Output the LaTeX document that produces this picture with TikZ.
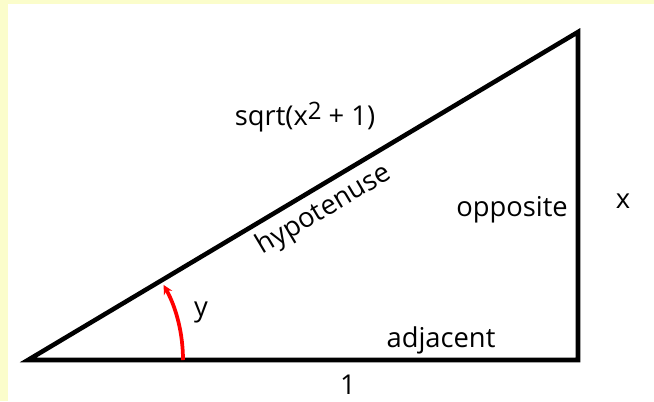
\documentclass[tikz,border=0pt]{standalone}
\usepackage{fontspec}
\setmainfont{Open Sans}
\usepackage{tikz}
\usetikzlibrary{arrows.meta, positioning, calc}

\definecolor{paleyellow}{HTML}{FBFDCB}

\begin{document}
\begin{tikzpicture}[x=0.75pt, y=-0.75pt, >=Stealth,
    lbl/.style={font=\fontsize{20.5}{23}\selectfont, inner sep=0pt},
    side/.style={line width=3.4pt, line join=miter}]
  \useasboundingbox (0,0) rectangle (654,401);
  \fill[paleyellow] (0,0) rectangle (654,401);
  \fill[white] (8,4) rectangle (654,401);

  % Triangle corners
  \coordinate (A) at (28,360);
  \coordinate (B) at (578,360);
  \coordinate (C) at (578,32);
  \draw[side] (A) -- (B) -- (C) -- cycle;

  % Angle y
  \coordinate (arcstart) at (183,360);
  \draw[red, line width=2.8pt, -{Stealth[length=7pt,width=7pt]}] (arcstart) arc[start angle=0, end angle=-29, radius=155];
  \node[lbl] (angy) at (201,312) {y};

  % Side labels
  \node[lbl] (hyplen) at (305,117) {sqrt(x\raisebox{0.45ex}{\fontsize{18}{20}\selectfont 2} + 1)};
  \node[lbl, rotate=30.8] (hyp) at (324,210) {hypotenuse};
  \node[lbl] (opp) at (512,210) {opposite};
  \node[lbl] (opplen) at (623,201) {x};
  \node[lbl] (adj) at (441,340) {adjacent};
  \node[lbl] (adjlen) at (348,385) {1};
\end{tikzpicture}
\end{document}
